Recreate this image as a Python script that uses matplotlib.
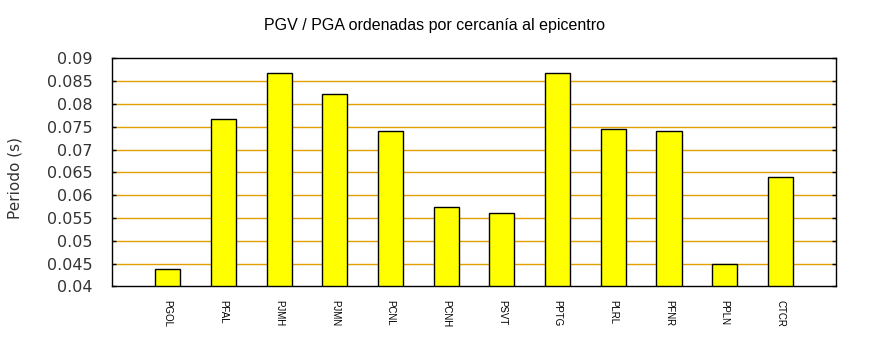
import numpy as np
import matplotlib.pyplot as plt

# Estaciones ordenadas por cercania al epicentro
stations = ['PGOL', 'PFAL', 'PJMH', 'PJMN', 'PCNL', 'PCNH',
            'PSVT', 'PPTG', 'PLRL', 'PFNR', 'PPLN', 'CTCR']
periodo = [0.0437, 0.0766, 0.0867, 0.0821, 0.0740, 0.0573,
           0.0560, 0.0867, 0.0744, 0.0740, 0.0448, 0.0639]
yticks = [0.04, 0.045, 0.05, 0.055, 0.06, 0.065, 0.07, 0.075, 0.08, 0.085, 0.09]
ytick_labels = ['0.04', '0.045', '0.05', '0.055', '0.06', '0.065',
                '0.07', '0.075', '0.08', '0.085', '0.09']

fig = plt.figure(figsize=(8.7, 3.5), dpi=100)
ax = fig.add_axes([0.1287, 0.182, 0.8323, 0.6514])

x = np.arange(1, len(stations) + 1)
ax.bar(x, periodo, width=0.45, color='#ffff00', edgecolor='black',
       linewidth=1.0, zorder=3)

ax.set_xlim(0, 13)
ax.set_ylim(0.04, 0.09)
ax.set_yticks(yticks)
ax.set_yticklabels(ytick_labels, fontsize=11.5, color='#333333')
ax.set_xticks(x)
ax.set_xticklabels(stations, rotation=-90, fontsize=7,
                   family='Liberation Sans')
ax.tick_params(axis='x', length=0, pad=10)
ax.tick_params(axis='y', direction='in', length=3, width=1,
               right=True, pad=14)

for y in yticks[1:-1]:
    ax.axhline(y, color='#e0a000', linewidth=1.0, zorder=1)

for s in ax.spines.values():
    s.set_linewidth(1.0)
    s.set_zorder(4)

ax.set_ylabel('Periodo (s)', fontsize=11, color='#333333')
ax.yaxis.set_label_coords(-0.124, 0.475)
fig.text(0.5, 0.927, 'PGV / PGA ordenadas por cercanía al epicentro',
         ha='center', va='center', fontsize=11.5, family='Liberation Sans')

fig.savefig('out.png', dpi=100)
